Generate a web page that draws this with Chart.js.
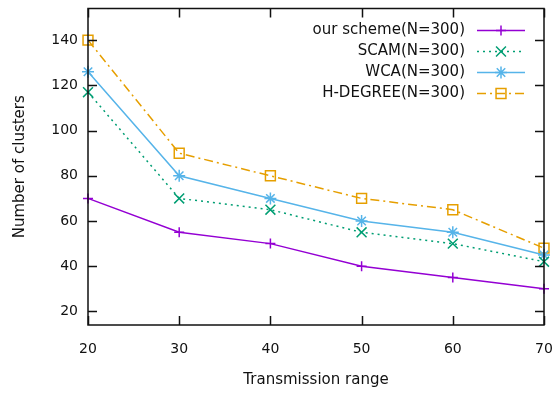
<!DOCTYPE html>
<html>
<head>
<meta charset="utf-8">
<script src="https://cdn.jsdelivr.net/npm/chart.js@4.4.1/dist/chart.umd.min.js"></script>
<style>
  html, body { margin: 0; padding: 0; background: #fff; }
  #wrap { width: 559px; height: 394px; }
</style>
</head>
<body>
<div id="wrap"><canvas id="myChart" width="559" height="394"></canvas></div>
<script>
// data
const ranges = [20, 30, 40, 50, 60, 70];
const ourScheme = [70, 55, 50, 40, 35, 30];
const scam = [117, 70, 65, 55, 50, 42];
const wca = [126, 80, 70, 60, 55, 45];
const hDegree = [140, 90, 80, 70, 65, 48];
const yTicks = [20, 40, 60, 80, 100, 120, 140];

const FONT = 'DejaVu Sans';
const INK = '#111';

// gnuplot style: full border box with inward ticks on all four sides
const boxPlugin = {
  id: 'box',
  afterDatasetsDraw(chart) {
    const ctx = chart.ctx;
    const a = chart.chartArea;
    const xs = chart.scales.x, ys = chart.scales.y;
    const len = 9;
    ctx.save();
    ctx.strokeStyle = INK;
    ctx.lineWidth = 1.5;
    ctx.beginPath();
    xs.ticks.forEach((t, i) => {
      const px = Math.round(xs.getPixelForTick(i)) + 0.5;
      ctx.moveTo(px, a.bottom); ctx.lineTo(px, a.bottom - len);
      ctx.moveTo(px, a.top); ctx.lineTo(px, a.top + len);
    });
    ys.ticks.forEach((t) => {
      const py = Math.round(ys.getPixelForValue(t.value)) + 0.5;
      ctx.moveTo(a.left, py); ctx.lineTo(a.left + len, py);
      ctx.moveTo(a.right, py); ctx.lineTo(a.right - len, py);
    });
    ctx.stroke();
    ctx.strokeRect(a.left, a.top, a.right - a.left, a.bottom - a.top);
    ctx.restore();
  }
};

// key in the top right, text right aligned before the sample
const keyPlugin = {
  id: 'key',
  afterDraw(chart) {
    const ctx = chart.ctx;
    const a = chart.chartArea;
    const textRight = a.right - 79;
    const lineL = a.right - 67, lineR = a.right - 19;
    ctx.save();
    ctx.font = '15px ' + FONT;
    ctx.textAlign = 'right';
    ctx.textBaseline = 'middle';
    chart.data.datasets.forEach((ds, i) => {
      const y = a.top + 22 + i * 21;
      ctx.fillStyle = INK;
      ctx.fillText(ds.label, textRight, y);
      ctx.strokeStyle = ds.borderColor;
      ctx.lineWidth = ds.borderWidth;
      ctx.setLineDash(ds.borderDash || []);
      ctx.beginPath();
      ctx.moveTo(lineL, y);
      ctx.lineTo(lineR, y);
      ctx.stroke();
      ctx.setLineDash([]);
      ctx.fillStyle = 'rgba(0,0,0,0)';
      Chart.helpers.drawPoint(ctx, {
        pointStyle: ds.pointStyle,
        radius: ds.pointRadius,
        rotation: 0,
        borderWidth: ds.pointBorderWidth
      }, (lineL + lineR) / 2, y);
    });
    ctx.restore();
  }
};

function makeSet(label, values, color, style, radius, dash) {
  return {
    label: label,
    data: values,
    borderColor: color,
    backgroundColor: 'rgba(0,0,0,0)',
    borderWidth: 1.5,
    borderDash: dash,
    pointStyle: style,
    pointRadius: radius,
    pointBorderColor: color,
    pointBackgroundColor: 'rgba(0,0,0,0)',
    pointBorderWidth: 1.5,
    tension: 0
  };
}

function noEdgePadding(scale) {
  scale.paddingTop = 0;
  scale.paddingBottom = 0;
  scale.paddingLeft = 0;
  scale.paddingRight = 0;
}

const ctx = document.getElementById('myChart').getContext('2d');
new Chart(ctx, {
  type: 'line',
  data: {
    labels: ranges,
    datasets: [
      makeSet('our scheme(N=300)', ourScheme, '#9400d3', 'cross', 5, []),
      makeSet('SCAM(N=300)', scam, '#009e73', 'crossRot', 7, [2, 4]),
      makeSet('WCA(N=300)', wca, '#56b4e9', 'star', 6, []),
      makeSet('H-DEGREE(N=300)', hDegree, '#e69f00', 'rect', 7, [9, 4, 2, 4])
    ]
  },
  options: {
    responsive: false,
    animation: false,
    layout: { padding: { left: 0, top: 6, right: 15, bottom: 0 } },
    plugins: {
      legend: { display: false },
      tooltip: { enabled: false }
    },
    scales: {
      x: {
        offset: false,
        grid: { display: false, drawTicks: false },
        border: { display: false },
        ticks: { color: INK, font: { family: FONT, size: 14 }, padding: 16, maxRotation: 0 },
        title: {
          display: true, text: 'Transmission range', color: INK,
          font: { family: FONT, size: 15 }, padding: { top: 0, bottom: 5 }
        },
        afterFit(scale) { scale.height = 69; noEdgePadding(scale); }
      },
      y: {
        min: 14,
        max: 154,
        grid: { display: false, drawTicks: false },
        border: { display: false },
        ticks: { color: INK, font: { family: FONT, size: 14 }, padding: 10 },
        afterBuildTicks(scale) { scale.ticks = yTicks.map(v => ({ value: v })); },
        title: {
          display: true, text: 'Number of clusters', color: INK,
          font: { family: FONT, size: 15 }, padding: { top: 11, bottom: 0 }
        },
        afterFit(scale) { scale.width = 88; noEdgePadding(scale); }
      }
    }
  },
  plugins: [boxPlugin, keyPlugin]
});
</script>
</body>
</html>
